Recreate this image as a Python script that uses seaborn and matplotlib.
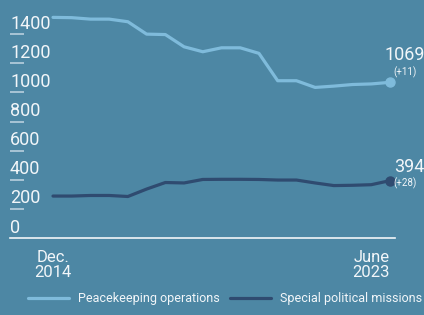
import numpy as np
import pandas as pd
import matplotlib
matplotlib.use("Agg")
import matplotlib.pyplot as plt
import matplotlib.transforms as mtransforms
import seaborn as sns

# data (semi-annual, Dec 2014 -> June 2023)
peacekeeping = [1515, 1513, 1503, 1503, 1485, 1400, 1397, 1313, 1279, 1306,
                1306, 1268, 1080, 1080, 1034, 1043, 1054, 1058, 1069]
special_political = [288, 288, 292, 292, 285, 336, 381, 378, 402, 403,
                     403, 402, 398, 398, 378, 360, 362, 366, 394]
series_names = ["Peacekeeping operations", "Special political missions"]
end_changes = ["(+11)", "(+28)"]
x_tick_labels = ["Dec.\n2014", "June\n2023"]
y_ticks = [0, 200, 400, 600, 800, 1000, 1200, 1400]

bg = "#4d87a4"
light = "#7fbbdb"
dark = "#2f4b70"
txt = "#f2f6f9"

n = len(peacekeeping)
df = pd.DataFrame({
    "t": list(range(n)) * 2,
    "value": peacekeeping + special_political,
    "series": [series_names[0]] * n + [series_names[1]] * n,
})

sns.set_theme(style="white")
plt.rcParams["font.family"] = ["Roboto", "DejaVu Sans"]

W, H = 424, 315
fig = plt.figure(figsize=(W / 100, H / 100), dpi=100, facecolor=bg)
# axes from x=10..395 px, y=5..238 px (from top)
ax = fig.add_axes([10 / W, (H - 238) / H, 385 / W, 233 / H])
ax.set_facecolor(bg)

sns.lineplot(data=df, x="t", y="value", hue="series",
             palette={series_names[0]: light, series_names[1]: dark},
             linewidth=2.3, ax=ax, legend=False)
ax.set_xlabel("")
ax.set_ylabel("")

ppu = 337 / (n - 1)
ax.set_xlim(-43 / ppu, (n - 1) + 5 / ppu)
ax.set_ylim(0, 1600)

for s in ["top", "right", "left"]:
    ax.spines[s].set_visible(False)
ax.spines["bottom"].set_color(txt)
ax.spines["bottom"].set_linewidth(1.2)

# x ticks
ax.set_xticks([0, n - 1])
ax.set_xticklabels(x_tick_labels, color=txt, fontsize=12, linespacing=0.95)
ax.tick_params(axis="x", direction="out", length=6, width=0.8,
               color="#c9dbe6", pad=3)
ax.get_xticklabels()[1].set_horizontalalignment("right")

# y ticks: short stubs inside, labels sitting above them
ax.set_yticks([])
trans = mtransforms.blended_transform_factory(ax.transAxes, ax.transData)
for v in y_ticks:
    if v > 0:
        ax.plot([0, 14 / 385], [v, v], transform=trans, color="#b9d0de",
                lw=1.2, solid_capstyle="butt")
    ax.annotate(str(v), (0, v), xycoords=trans, xytext=(0, 1),
                textcoords="offset points", ha="left", va="bottom",
                color=txt, fontsize=13)

# end points and labels
ends = [(peacekeeping[-1], light, end_changes[0], 13, 3),
        (special_political[-1], dark, end_changes[1], 3, -6)]
for val, col, chg, dy_big, dy_small in ends:
    ax.plot([n - 1], [val], "o", color=col, markersize=6.5, clip_on=False)
    ax.annotate(str(val), (n - 1, val), xytext=(25, dy_big),
                textcoords="offset points", ha="right", va="bottom",
                color=txt, fontsize=13, annotation_clip=False)
    ax.annotate(chg, (n - 1, val), xytext=(11, dy_small),
                textcoords="offset points", ha="center", va="bottom",
                color=txt, fontsize=7, annotation_clip=False)

# legend
handles = [plt.Line2D([], [], color=light, lw=2.3),
           plt.Line2D([], [], color=dark, lw=2.3)]
fig.legend(handles, series_names, loc="lower center", ncol=2,
           bbox_to_anchor=(0.53, -0.005), frameon=False, fontsize=9,
           labelcolor=txt, handlelength=3.3, columnspacing=0.8,
           handletextpad=0.7)

fig.savefig("out.png", dpi=100, facecolor=bg)
